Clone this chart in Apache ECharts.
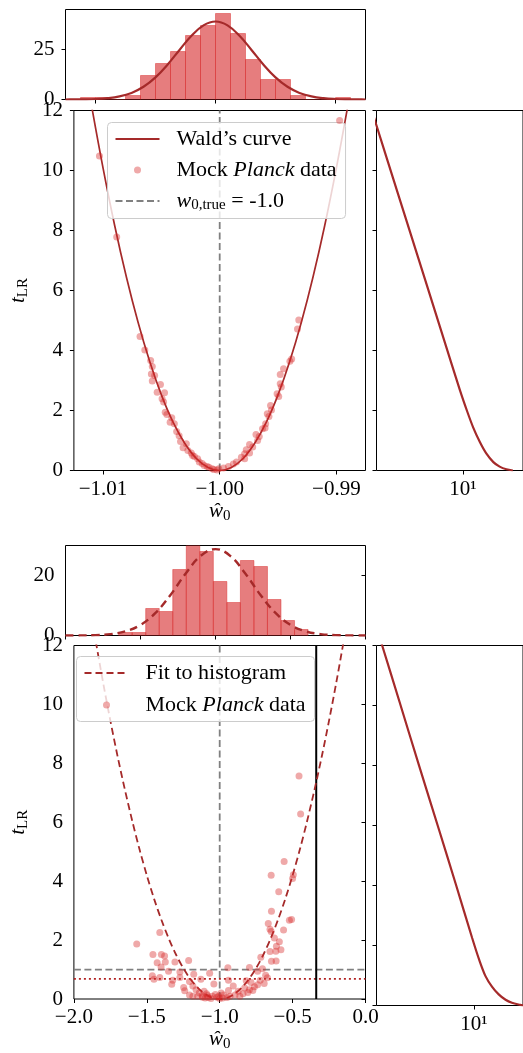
<!DOCTYPE html>
<html>
<head>
<meta charset="utf-8">
<script src="https://cdn.jsdelivr.net/npm/echarts@6.0.0/dist/echarts.min.js"></script>
<style>
html,body{margin:0;padding:0;background:#ffffff;}
#chart{width:523px;height:1053px;}
</style>
</head>
<body>
<div id="chart"></div>
<script>
// ================= DATA =================
// ---- Panel 1 : Wald's curve ----
const hist1Start = -1.01125;
const hist1BinWidth = 0.00125;
const hist1Counts = [1, 1, 0, 2, 12, 18, 24, 32, 37, 43, 33, 20, 10, 10, 2, 0, 0, 1];

const gauss1W = [-1.0125, -1.012, -1.011, -1.010, -1.009, -1.008, -1.007, -1.006, -1.005, -1.004, -1.003, -1.002, -1.001, -1.000,
                 -0.999, -0.998, -0.997, -0.996, -0.995, -0.994, -0.993, -0.992, -0.991, -0.990, -0.989, -0.988, -0.9875];
const gauss1N = [0.01, 0.03, 0.09, 0.25, 0.66, 1.55, 3.30, 6.36, 11.07, 17.41, 24.78, 31.88, 37.08, 39.0,
                 37.08, 31.88, 24.78, 17.41, 11.07, 6.36, 3.30, 1.55, 0.66, 0.25, 0.09, 0.03, 0.01];

const waldW = [-1.011, -1.010, -1.009, -1.008, -1.007, -1.006, -1.005, -1.004, -1.003, -1.002, -1.001, -1.000,
               -0.999, -0.998, -0.997, -0.996, -0.995, -0.994, -0.993, -0.992, -0.991, -0.990, -0.989];
const waldT = [12.19, 10.08, 8.16, 6.45, 4.94, 3.63, 2.52, 1.61, 0.91, 0.40, 0.10, 0,
               0.10, 0.40, 0.91, 1.61, 2.52, 3.63, 4.94, 6.45, 8.16, 10.08, 12.19];

const mock1 = [
  [-1.01031, 10.48], [-1.00883, 7.78], [-1.00683, 4.47], [-1.00642, 4.02], [-1.00592, 3.67], [-1.00578, 3.47],
  [-1.00586, 3.22], [-1.00558, 3.17], [-1.00578, 2.98], [-1.00508, 2.87], [-1.00536, 2.61], [-1.00473, 2.59],
  [-1.00494, 2.39], [-1.00481, 2.28], [-1.00467, 1.94], [-1.00453, 1.87], [-1.00411, 1.76], [-1.00425, 1.61],
  [-1.00389, 1.56], [-1.00369, 1.30], [-1.00348, 1.16], [-1.00336, 0.97], [-1.00286, 0.89], [-1.00314, 0.76],
  [-1.00273, 0.67], [-1.00244, 0.58], [-1.00217, 0.47], [-1.00189, 0.39], [-1.00175, 0.28], [-1.00133, 0.17],
  [-1.00092, 0.11], [-1.00064, 0.06], [-1.00022, 0.02], [-1.00233, 0.50], [-1.00150, 0.23], [-1.00108, 0.13],
  [-1.00050, 0.03],
  [-0.98972, 11.67], [-0.99322, 5.02], [-0.99333, 4.72], [-0.99383, 3.72], [-0.99398, 3.64], [-0.99453, 3.39],
  [-0.99481, 3.20], [-0.99481, 2.89], [-0.99472, 2.78], [-0.99508, 2.56], [-0.99494, 2.47], [-0.99564, 2.17],
  [-0.99556, 2.02], [-0.99592, 1.89], [-0.99578, 1.80], [-0.99606, 1.56], [-0.99611, 1.42], [-0.99633, 1.39],
  [-0.99689, 1.20], [-0.99661, 1.13], [-0.99675, 1.00], [-0.99744, 0.87], [-0.99717, 0.78], [-0.99772, 0.69],
  [-0.99744, 0.58], [-0.99786, 0.56], [-0.99814, 0.44], [-0.99786, 0.39], [-0.99856, 0.28], [-0.99883, 0.22],
  [-0.99925, 0.13], [-0.99967, 0.08], [-1.00008, 0.06]
];
const trueW = -1.0;

const right1X = [1.467, 1.619, 2.325, 3.298, 4.677, 6.622, 9.391, 11.0, 12.41, 14.3, 16.43, 19.0, 21.70, 25.0, 28.66];
const right1T = [12.0, 11.5, 9.68, 7.93, 6.18, 4.43, 2.68, 1.95, 1.44, 0.95, 0.56, 0.28, 0.13, 0.04, 0.0];

// ---- Panel 2 : fit to histogram ----
const hist2Start = -1.6458;
const hist2BinWidth = 0.0902;
const hist2Counts = [1, 1, 9, 8, 22, 30, 28, 18, 11, 25, 23, 12, 5, 2];

const gauss2W = [-2.0, -1.9, -1.8, -1.7, -1.6, -1.5, -1.4, -1.3, -1.2, -1.1, -1.0,
                 -0.9, -0.8, -0.7, -0.6, -0.5, -0.4, -0.3, -0.2, -0.1, 0.0];
const gauss2N = [0.01, 0.03, 0.13, 0.47, 1.40, 3.53, 7.51, 13.52, 20.58, 26.48, 28.8,
                 26.48, 20.58, 13.52, 7.51, 3.53, 1.40, 0.47, 0.13, 0.03, 0.01];

const fit2W = [-1.85, -1.80, -1.75, -1.70, -1.65, -1.60, -1.55, -1.50, -1.45, -1.40, -1.35, -1.30, -1.25, -1.20, -1.15, -1.10, -1.05,
               -1.00, -0.95, -0.90, -0.85, -0.80, -0.75, -0.70, -0.65, -0.60, -0.55, -0.50, -0.45, -0.40, -0.35, -0.30, -0.25, -0.20, -0.15];
const fit2T = [12.14, 10.75, 9.45, 8.23, 7.10, 6.05, 5.08, 4.20, 3.40, 2.69, 2.06, 1.51, 1.05, 0.67, 0.38, 0.17, 0.04,
               0, 0.04, 0.17, 0.38, 0.67, 1.05, 1.51, 2.06, 2.69, 3.40, 4.20, 5.08, 6.05, 7.10, 8.23, 9.45, 10.75, 12.14];

const mock2 = [
  [-1.569, 1.87], [-1.411, 2.26], [-1.458, 1.51], [-1.400, 1.51], [-1.378, 1.46], [-1.429, 1.23],
  [-1.373, 1.26], [-1.402, 1.09], [-1.307, 1.26], [-1.213, 1.31], [-1.351, 0.94], [-1.273, 0.92], [-1.462, 0.79],
  [-1.411, 0.73], [-1.451, 0.67], [-1.322, 0.64], [-1.273, 0.73], [-1.329, 0.50], [-1.178, 0.84], [-1.207, 0.59],
  [-1.129, 0.67], [-1.069, 0.87], [-1.040, 0.51], [-1.184, 0.44], [-1.247, 0.39], [-1.240, 0.28], [-1.162, 0.31],
  [-1.207, 0.14], [-1.140, 0.20], [-1.107, 0.26], [-1.084, 0.12], [-1.118, 0.06], [-1.051, 0.09], [-1.151, 0.09],
  [-1.184, 0.09], [-1.018, 0.06], [-1.100, 0.03], [-1.080, 0.05], [-1.060, 0.02], [-1.030, 0.15], [-1.120, 0.12],
  [-1.090, 0.18], [-1.000, 0.02], [-0.980, 0.03], [-0.950, 0.05], [-0.990, 0.20],
  [-0.456, 7.57], [-0.445, 6.28], [-0.558, 4.67], [-0.647, 4.20], [-0.495, 4.22], [-0.500, 4.09], [-0.595, 3.64],
  [-0.645, 2.98], [-0.507, 2.70], [-0.522, 2.67], [-0.667, 2.56], [-0.655, 2.37], [-0.647, 2.29], [-0.562, 2.34],
  [-0.625, 2.07], [-0.591, 1.94], [-0.611, 1.79], [-0.655, 1.61], [-0.580, 1.67], [-0.615, 1.62], [-0.645, 1.28],
  [-0.613, 1.29], [-0.718, 1.42], [-0.944, 1.06], [-0.796, 1.07], [-0.707, 1.03], [-0.740, 0.94], [-0.685, 0.81],
  [-0.673, 0.72], [-0.940, 0.64], [-0.818, 0.62], [-0.785, 0.56], [-0.722, 0.64], [-0.695, 0.53], [-0.740, 0.48],
  [-0.762, 0.42], [-0.907, 0.44], [-0.829, 0.37], [-0.796, 0.31], [-0.873, 0.26], [-0.940, 0.29], [-0.840, 0.18],
  [-0.973, 0.14], [-0.895, 0.14], [-0.807, 0.22], [-0.773, 0.29], [-1.007, 0.09], [-0.929, 0.09], [-0.862, 0.09]
];
const trueW2 = -1.0;
const threshT = 1.0;
const dottedT = 0.68;
const cutW = -0.338;

const right2X = [1.31, 1.448, 2.080, 3.162, 4.806, 6.817, 9.650, 11.2, 12.78, 14.7, 16.88, 19.5, 22.29, 26.58, 28.48];
const right2T = [12.5, 12.0, 10.14, 7.98, 5.85, 4.06, 2.25, 1.52, 0.98, 0.62, 0.37, 0.19, 0.09, 0.02, 0.0];

// axis ticks
const w1Ticks = [-1.01, -1.00, -0.99];
const hist1YTicks = [0, 25];
const hist2YTicks = [0, 20];
const logTicks = [10];

// ================= STYLE / LAYOUT =================
const FONT = '"Liberation Serif", "DejaVu Serif", serif';
const BROWN = '#a52a2a';
const PT_COLOR = 'rgba(214,39,40,0.5)';
const GRAY = '#808080';
const TICK_FS = 21;
const LEG_FS = 22;

const zip = (a, b) => a.map((v, i) => [v, b[i]]);
const bins = (start, bw, counts) => counts.map((c, i) => [start + i * bw, start + (i + 1) * bw, c]);
const minusFmt = d => v => (v < -1e-9 ? '\u2212' : '') + Math.abs(v).toFixed(d);

function renderHist(params, api) {
  const p0 = api.coord([api.value(0), api.value(2)]);
  const p1 = api.coord([api.value(1), 0]);
  return {
    type: 'rect',
    shape: {x: p0[0], y: p0[1], width: p1[0] - p0[0], height: p1[1] - p0[1]},
    style: {fill: 'rgba(214,39,40,0.6)', stroke: 'rgba(214,39,40,0.45)', lineWidth: 1}
  };
}

// log-axis extents (right panels)
const r1Min = 1.619, r1Max = 35.5;
const r2Min = 1.285, r2Max = 28.17;

const gridBase = {show: true, borderColor: '#000', borderWidth: 1, backgroundColor: 'transparent'};
const grid = [
  {left: 65.5, top: 9.5, width: 300, height: 90},
  {left: 65.5, top: 110.5, width: 300, height: 360},
  {left: 376.5, top: 110.5, width: 147.5, height: 360},
  {left: 65.5, top: 545.5, width: 300, height: 90},
  {left: 65.5, top: 645.5, width: 300, height: 360},
  {left: 376.5, top: 645.5, width: 147.5, height: 360}
].map(g => Object.assign({}, gridBase, g));

function tick(custom) {
  const t = {show: true, inside: false, length: 4, lineStyle: {color: '#000', width: 1}};
  if (custom) t.customValues = custom;
  return t;
}
function lab(custom, formatter, margin) {
  const l = {show: true, fontFamily: FONT, fontSize: TICK_FS, color: '#000', margin: margin, formatter: formatter};
  if (custom) l.customValues = custom;
  return l;
}
const noLab = {show: false};
const common = {axisLine: {show: false}, splitLine: {show: false}, minorTick: {show: false}};

const subRich = {
  m: {fontFamily: FONT, fontSize: TICK_FS, fontStyle: 'italic', color: '#000', lineHeight: 25},
  r: {fontFamily: FONT, fontSize: TICK_FS, color: '#000', lineHeight: 25},
  s: {fontFamily: FONT, fontSize: 15, color: '#000', verticalAlign: 'bottom', lineHeight: 15}
};
const xName = '{m|\u0175}{s|0}';
const yName = '{m|t}{s|LR}';
const nameStyle = {fontFamily: FONT, fontSize: TICK_FS, color: '#000', rich: subRich};
const logLabel = () => '10\u00b9';

const xAxis = [
  Object.assign({gridIndex: 0, type: 'value', min: -1.0125, max: -0.9875, axisTick: tick(w1Ticks), axisLabel: noLab}, common),
  Object.assign({gridIndex: 1, type: 'value', min: -1.0125, max: -0.9875, axisTick: tick(w1Ticks),
    axisLabel: lab(w1Ticks, minusFmt(2), 8), name: xName, nameLocation: 'middle', nameGap: 28, nameTextStyle: nameStyle}, common),
  Object.assign({gridIndex: 2, type: 'log', logBase: 10, min: r1Min, max: r1Max, axisTick: tick(logTicks),
    axisLabel: lab(logTicks, logLabel, 8)}, common),
  Object.assign({gridIndex: 3, type: 'value', min: -2, max: 0, interval: 0.5, axisTick: tick(), axisLabel: noLab}, common),
  Object.assign({gridIndex: 4, type: 'value', min: -2, max: 0, interval: 0.5, axisTick: tick(),
    axisLabel: lab(null, minusFmt(1), 8), name: xName, nameLocation: 'middle', nameGap: 28, nameTextStyle: nameStyle}, common),
  Object.assign({gridIndex: 5, type: 'log', logBase: 10, min: r2Min, max: r2Max, axisTick: tick(logTicks),
    axisLabel: lab(logTicks, logLabel, 8)}, common)
];
const yAxis = [
  Object.assign({gridIndex: 0, type: 'value', min: 0, max: 45, axisTick: tick(hist1YTicks), axisLabel: lab(hist1YTicks, null, 11)}, common),
  Object.assign({gridIndex: 1, type: 'value', min: 0, max: 12, interval: 2, axisTick: tick(), axisLabel: lab(null, null, 11),
    name: yName, nameLocation: 'middle', nameRotate: 90, nameGap: 37, nameTextStyle: nameStyle}, common),
  Object.assign({gridIndex: 2, type: 'value', min: 0, max: 12, interval: 2, axisTick: tick(), axisLabel: noLab}, common),
  Object.assign({gridIndex: 3, type: 'value', min: 0, max: 30, axisTick: tick(hist2YTicks), axisLabel: lab(hist2YTicks, null, 11)}, common),
  Object.assign({gridIndex: 4, type: 'value', min: 0, max: 12, interval: 2, axisTick: tick(), axisLabel: lab(null, null, 11),
    name: yName, nameLocation: 'middle', nameRotate: 90, nameGap: 37, nameTextStyle: nameStyle}, common),
  Object.assign({gridIndex: 5, type: 'value', min: 0, max: 12, interval: 2, axisTick: tick(), axisLabel: noLab}, common)
];

function line(name, idx, data, color, width, type, z) {
  return {type: 'line', name: name, xAxisIndex: idx, yAxisIndex: idx, data: data, symbol: 'none', showSymbol: false,
    smooth: false, clip: true, z: z || 3, silent: true,
    lineStyle: {color: color, width: width, type: type || 'solid'}, itemStyle: {color: color}};
}

const series = [
  // panel 1 histogram
  {type: 'custom', name: 'hist1', xAxisIndex: 0, yAxisIndex: 0, renderItem: renderHist, encode: {x: [0, 1], y: 2},
   data: bins(hist1Start, hist1BinWidth, hist1Counts), clip: true, silent: true, z: 2},
  Object.assign(line('gauss1', 0, zip(gauss1W, gauss1N), BROWN, 2.2), {smooth: 0.4}),
  // panel 1 main
  line('true1', 1, [[trueW, 0], [trueW, 12]], GRAY, 1.8, [7, 3.5], 2),
  Object.assign(line('wald', 1, zip(waldW, waldT), BROWN, 1.7), {smooth: 0.4}),
  {type: 'scatter', name: 'mock1', xAxisIndex: 1, yAxisIndex: 1, data: mock1, symbol: 'circle', symbolSize: 7,
   itemStyle: {color: PT_COLOR}, silent: true, z: 4},
  // panel 1 right
  Object.assign(line('right1', 2, zip(right1X, right1T), BROWN, 2.2), {smooth: 0.3}),
  // panel 2 histogram
  {type: 'custom', name: 'hist2', xAxisIndex: 3, yAxisIndex: 3, renderItem: renderHist, encode: {x: [0, 1], y: 2},
   data: bins(hist2Start, hist2BinWidth, hist2Counts), clip: true, silent: true, z: 2},
  Object.assign(line('gauss2', 3, zip(gauss2W, gauss2N), BROWN, 2.4, [8, 5]), {smooth: 0.4}),
  // panel 2 main
  line('true2', 4, [[trueW2, 0], [trueW2, 12]], GRAY, 1.8, [7, 3.5], 2),
  line('thresh', 4, [[-2, threshT], [0, threshT]], GRAY, 1.8, [7, 3.5], 2),
  line('dotted', 4, [[-2, dottedT], [0, dottedT]], '#b22222', 1.8, [2, 3], 2),
  line('cut', 4, [[cutW, 0], [cutW, 12]], '#000', 2, 'solid', 2),
  Object.assign(line('fit', 4, zip(fit2W, fit2T), BROWN, 1.8, [7, 4]), {smooth: 0.3}),
  {type: 'scatter', name: 'mock2', xAxisIndex: 4, yAxisIndex: 4, data: mock2, symbol: 'circle', symbolSize: 7,
   itemStyle: {color: PT_COLOR}, silent: true, z: 4},
  // panel 2 right
  Object.assign(line('right2', 5, zip(right2X, right2T), BROWN, 2.2), {smooth: 0.3})
];

const legendLabels = {
  wald: "Wald\u2019s curve",
  mock1: 'Mock {i|Planck} data',
  true1: '{m|w}{s|0,true}{r| = -1.0}',
  fit: 'Fit to histogram',
  mock2: 'Mock {i|Planck} data'
};
const legendText = {
  fontFamily: FONT, fontSize: LEG_FS, color: '#000', lineHeight: 23, padding: [0, 0, 0, 12],
  rich: {
    i: {fontFamily: FONT, fontSize: LEG_FS, fontStyle: 'italic', color: '#000', lineHeight: 23},
    m: {fontFamily: FONT, fontSize: LEG_FS, fontStyle: 'italic', color: '#000', lineHeight: 23},
    r: {fontFamily: FONT, fontSize: LEG_FS, color: '#000', lineHeight: 23},
    s: {fontFamily: FONT, fontSize: 15, color: '#000', verticalAlign: 'bottom', lineHeight: 15}
  }
};
const legendBase = {
  orient: 'vertical', itemWidth: 44, itemHeight: 7, align: 'left',
  backgroundColor: 'rgba(255,255,255,0.8)', borderColor: '#cccccc', borderWidth: 1, borderRadius: 4,
  textStyle: legendText, formatter: n => legendLabels[n], selectedMode: false
};
const hideSym = {opacity: 0};
const legend = [
  Object.assign({}, legendBase, {left: 107.5, top: 122.5, itemGap: 8, padding: [5, 9, 6, 7],
    data: [{name: 'wald', itemStyle: hideSym}, 'mock1', {name: 'true1', itemStyle: hideSym}]}),
  Object.assign({}, legendBase, {left: 76.5, top: 656.5, itemGap: 9, padding: [5, 9, 5, 7],
    data: [{name: 'fit', itemStyle: hideSym}, 'mock2']})
];

const chart = echarts.init(document.getElementById('chart'), null, {renderer: 'canvas'});
chart.setOption({
  animation: false,
  backgroundColor: '#ffffff',
  grid: grid,
  xAxis: xAxis,
  yAxis: yAxis,
  legend: legend,
  series: series
});
</script>
</body>
</html>
